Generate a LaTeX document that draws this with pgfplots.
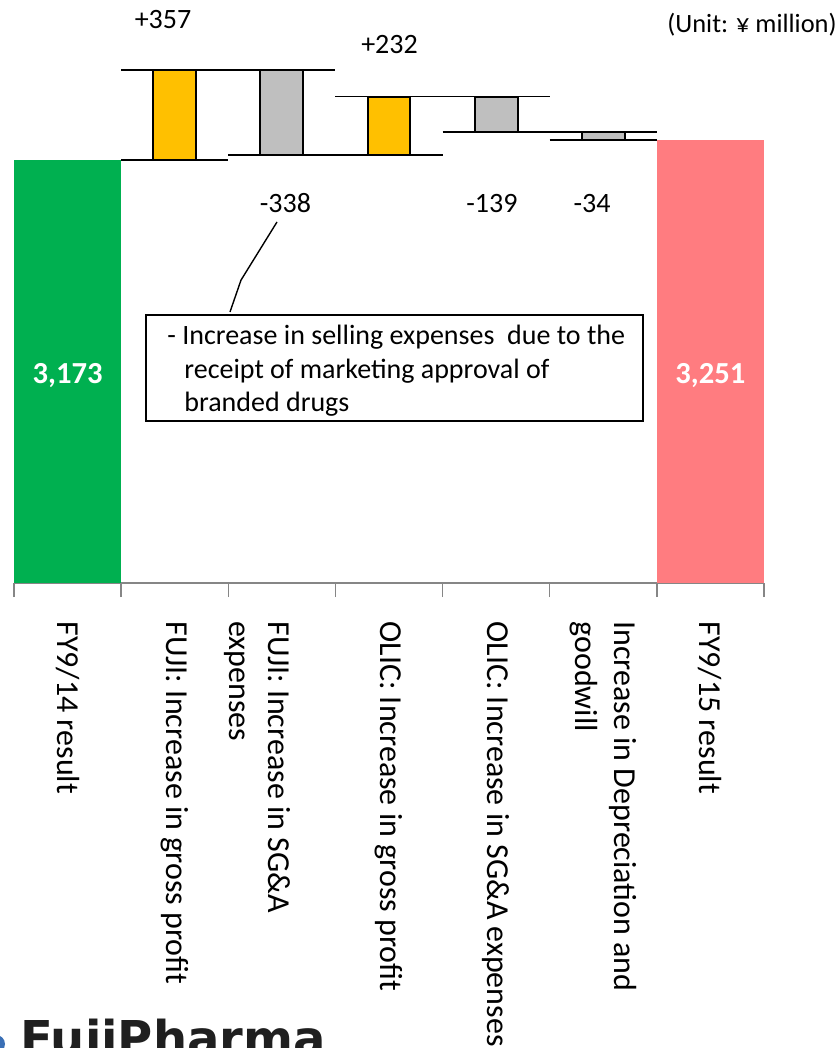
\documentclass[border=0pt]{standalone}
\usepackage{fontspec}
\setmainfont{Carlito}
\newfontfamily\logofont{DejaVu Sans}
\usepackage{pgfplots}
\pgfplotsset{compat=1.18}
\definecolor{cgreen}{HTML}{00B050}
\definecolor{cyellow}{HTML}{FFC000}
\definecolor{cgray}{HTML}{BFBFBF}
\definecolor{cpink}{HTML}{FF7C80}
\definecolor{axisgray}{HTML}{868686}
\definecolor{logoblue}{HTML}{3A6FB5}
\pgfplotsset{
  wfgeom/.style={at={(7pt,232.5pt)}, anchor=south west, scale only axis,
    width=375pt, height=291.5pt, xmin=-0.5, xmax=6.5, ymin=1500, ymax=3806},
}
\begin{document}
\begin{tikzpicture}[x=0.5pt,y=0.5pt]
\path[use as bounding box] (0,0) rectangle (839,1048);
\begin{axis}[wfgeom,
  axis y line=none, axis x line*=bottom,
  x axis line style={draw=axisgray, line width=0.75pt, -},
  xtick={-0.5,0.5,...,6.5}, xticklabels={},
  tick align=outside, major tick length=7pt,
  xtick style={draw=axisgray, line width=0.75pt},
  extra x ticks={0,1,2,3,4,5,6},
  extra x tick labels={{FY9/14 result},{FUJI: Increase in gross profit},{\raisebox{0pt}[\height][0pt]{\begin{tabular}[t]{@{}l@{}}FUJI: Increase in SG\&A\\expenses\end{tabular}}},{OLIC: Increase in gross profit},{OLIC: Increase in SG\&A expenses},{Increase in Depreciation and\\goodwill},{FY9/15 result}},
  extra x tick style={major tick length=0pt, tick label style={inner sep=0pt, anchor=west, yshift=-19pt, rotate=-90, align=left, font=\fontsize{16}{19.5}\selectfont}},
]
% connector lines (start / end levels of each step)
\addplot[black, line width=0.85pt, unbounded coords=jump] coordinates {
 (0.5,3173) (1.5,3173) (1.5,nan)
 (0.5,3530) (2.5,3530) (2.5,nan)
 (1.5,3192) (3.5,3192) (3.5,nan)
 (2.5,3424) (4.5,3424) (4.5,nan)
 (3.5,3285) (5.5,3285) (5.5,nan)
 (4.5,3251) (5.5,3251)
};
\addplot[ybar, bar width=1, bar shift=0pt, fill=cgreen, draw=none] coordinates {(0,3173)};
\addplot[ybar, bar width=1, bar shift=0pt, fill=cpink, draw=none] coordinates {(6,3251)};
% value labels
\node[anchor=base, font=\fontsize{14}{17}\selectfont] at (axis cs:0.891,3695) {+357};
\node[anchor=base, font=\fontsize{14}{17}\selectfont] at (axis cs:3.005,3596) {+232};
\node[anchor=base, font=\fontsize{14}{17}\selectfont] at (axis cs:2.034,2967) {-338};
\node[anchor=base, font=\fontsize{14}{17}\selectfont] at (axis cs:3.961,2967) {-139};
\node[anchor=base, font=\fontsize{14}{17}\selectfont] at (axis cs:4.895,2967) {-34};
\node[anchor=base, text=white, font=\bfseries\fontsize{15.3}{18}\selectfont] at (axis cs:0,2291) {3,173};
\node[anchor=base, text=white, font=\bfseries\fontsize{15.3}{18}\selectfont] at (axis cs:6,2291) {3,251};
% annotation
\draw[line width=0.75pt] (axis cs:0.732,2560) rectangle (axis cs:5.371,2140.5);
\node[anchor=base west, inner sep=0pt, font=\fontsize{14}{17}\selectfont] at (axis cs:0.928,2445) {- Increase in selling expenses\ \ due to the};
\node[anchor=base west, inner sep=0pt, font=\fontsize{14}{17}\selectfont] at (axis cs:1.0867,2310.6) {receipt of marketing approval of};
\node[anchor=base west, inner sep=0pt, font=\fontsize{14}{17}\selectfont] at (axis cs:1.0867,2180) {branded drugs};
\draw[line width=0.7pt] (axis cs:1.9547,2928) -- (axis cs:1.6187,2698) -- (axis cs:1.516,2572);
\end{axis}
\begin{axis}[wfgeom, hide axis, ybar stacked, bar width=0.4]
\addplot[draw=none, fill=none] coordinates {(1,3173) (2,3192) (3,3192) (4,3285) (5,3251)};
\addplot[fill=cyellow, draw=black, line width=1pt] coordinates {(1,357) (2,0) (3,232) (4,0) (5,0)};
\addplot[fill=cgray, draw=black, line width=1pt] coordinates {(1,0) (2,338) (3,0) (4,139) (5,34)};
\end{axis}
\node[anchor=base east, inner sep=0pt, font=\fontsize{13.2}{16}\selectfont] at (837,1015) {(Unit: ¥ million)};
\fill[logoblue] (-4,4) circle (9);
\node[anchor=base west, inner sep=0pt, font=\logofont\bfseries\fontsize{24}{26}\selectfont, text=black!88] at (20,-7) {FujiPharma};
\end{tikzpicture}
\end{document}
